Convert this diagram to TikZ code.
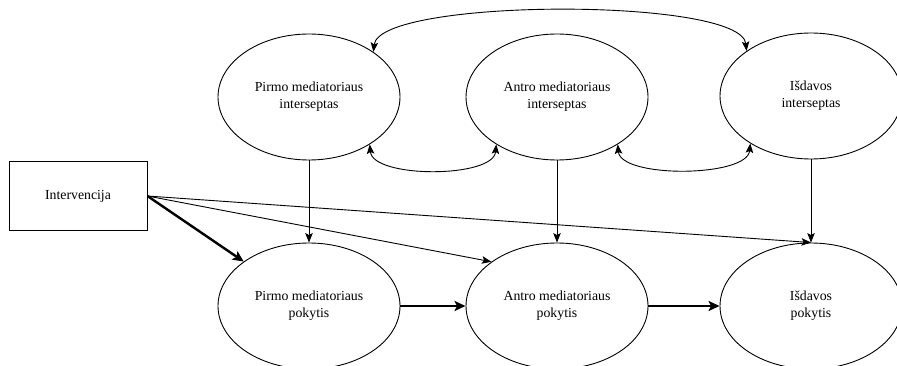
\documentclass[tikz,border=0pt]{standalone}
\usepackage{fontspec}
\setmainfont{Liberation Serif}
\usetikzlibrary{arrows.meta,shapes.geometric}
\begin{document}
\begin{tikzpicture}[x=1pt,y=-1pt,
  txt/.style={font=\fontsize{13.8}{16.7}\selectfont},
  latent/.style={ellipse,draw,line width=0.9pt,minimum width=182pt,
    minimum height=126pt,inner sep=0pt,align=center,txt},
  boxnode/.style={rectangle,draw,line width=0.9pt,minimum width=138pt,
    minimum height=69pt,inner sep=0pt,txt},
  thin/.style={line width=0.9pt,-{Stealth[length=9.5pt,width=7.5pt,inset=2pt]}},
  thick/.style={line width=2.4pt,-{Stealth[length=11pt,width=10pt,inset=2.5pt]}},
  covar/.style={line width=0.9pt,
    {Stealth[length=9.5pt,width=7.5pt,inset=2pt]}-{Stealth[length=9.5pt,width=7.5pt,inset=2pt]}}
]
\useasboundingbox (0,0) rectangle (897,366);

% intercepts (top row)
\node[latent] (e1) at (309,97) {Pirmo mediatoriaus\\interseptas};
\node[latent] (e2) at (557,97) {Antro mediatoriaus\\interseptas};
\node[latent] (e3) at (811,96) {Išdavos\\interseptas};

% changes (bottom row)
\node[latent] (b1) at (309,306) {Pirmo mediatoriaus\\pokytis};
\node[latent] (b2) at (557,306) {Antro mediatoriaus\\pokytis};
\node[latent] (b3) at (811,306) {Išdavos\\pokytis};

% treatment
\node[boxnode] (iv) at (78,196) {Intervencija};

% intercept -> change
\draw[thin] (e1.south) -- (b1.north);
\draw[thin] (e2.south) -- (b2.north);
\draw[thin] (e3.south) -- (b3.north);

% mediation chain
\draw[thick] (b1.east) -- (b2.west);
\draw[thick] (b2.east) -- (b3.west);

% treatment effects
\draw[thick] (iv.east) -- (b1);
\draw[thin] (iv.east) -- (b2.146);
\draw[thin] (iv.east) -- (b3.north);

% covariances among intercepts
\draw[covar] (e1.-38) .. controls +(3,34) and +(-3,34) .. (e2.-142);
\draw[covar] (e2.-38) .. controls +(3,34) and +(-3,34) .. (e3.-142);
\draw[covar] (e1.35) .. controls +(6,-54) and +(-6,-54) .. (e3.145);
\end{tikzpicture}
\end{document}
